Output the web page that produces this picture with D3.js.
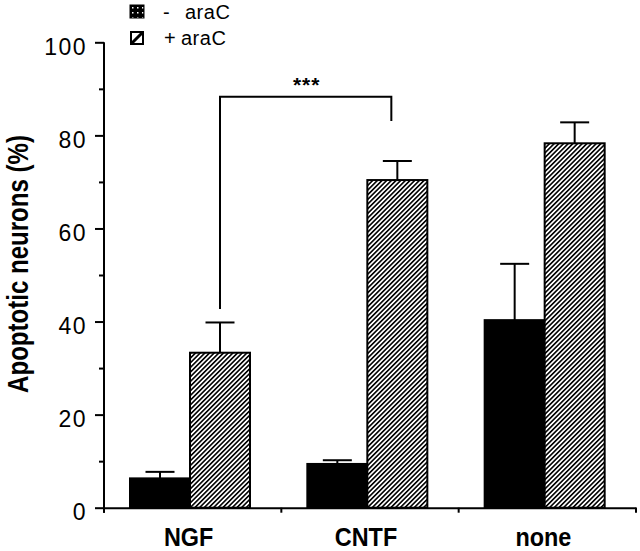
<!DOCTYPE html>
<html><head><meta charset="utf-8">
<script src="https://cdn.jsdelivr.net/npm/d3@7"></script>
<style>body{margin:0;background:#fff}text{font-family:"Liberation Sans",Arial,Helvetica,sans-serif;fill:#000}</style>
</head><body><svg id="c" width="640" height="551"></svg>
<script>
// ---- data ----
const categories = ["NGF", "CNTF", "none"];
const seriesKeys = ["minus", "plus"];
const legendSigns = ["-", "+"];
const legendWord = "araC";
const minusAraC = [6.3, 9.4, 40.3];
const minusAraCErr = [1.4, 0.8, 12.1];
const plusAraC = [33.3, 70.4, 78.3];
const plusAraCErr = [6.5, 4.1, 4.5];
const yMajorTicks = [0, 20, 40, 60, 80, 100];
const yMinorTicks = [10, 30, 50, 70, 90];
const yLabel = "Apoptotic neurons (%)";
const sigLabel = "***";
const sigFrom = ["NGF", "plus", 42.7];
const sigTo = ["CNTF", "plus", 83.1];
const sigTop = 88.3;

// ---- drawing ----
const svg = d3.select("#c");
const defs = svg.append("defs");
const hatch = defs.append("pattern").attr("id", "hatch")
  .attr("patternUnits", "userSpaceOnUse").attr("width", 3.3).attr("height", 3.3)
  .attr("patternTransform", "rotate(45)");
hatch.append("rect").attr("width", 3.3).attr("height", 3.3).attr("fill", "#fff");
hatch.append("rect").attr("width", 1.6).attr("height", 3.3).attr("fill", "#000");

const dots = defs.append("pattern").attr("id", "dots")
  .attr("patternUnits", "userSpaceOnUse").attr("width", 5).attr("height", 5);
dots.append("rect").attr("width", 5).attr("height", 5).attr("fill", "#000");
dots.append("rect").attr("x", 2).attr("y", 2).attr("width", 1.5).attr("height", 1.5).attr("fill", "#fff");

const y = d3.scaleLinear().domain([0, 100]).range([507.7, 42.3]);
const x0 = d3.scaleBand().domain(categories).range([104, 636]).paddingInner(0).paddingOuter(0);
const x1 = d3.scaleBand().domain(seriesKeys).range([26, 146]);

const rows = categories.map((c, i) => ({
  cat: c,
  bars: [
    { key: "minus", v: minusAraC[i], e: minusAraCErr[i] },
    { key: "plus", v: plusAraC[i], e: plusAraCErr[i] }
  ]
}));

// bars
const g = svg.append("g");
const grp = g.selectAll("g.cat").data(rows).join("g")
  .attr("transform", d => `translate(${x0(d.cat)},0)`);

// error bars (behind)
grp.selectAll("g.err").data(d => d.bars).join("g").each(function (b) {
  const cx = x1(b.key) + x1.bandwidth() / 2;
  const sel = d3.select(this);
  sel.append("line").attr("x1", cx).attr("x2", cx).attr("y1", y(b.v)).attr("y2", y(b.v + b.e))
    .attr("stroke", "#000").attr("stroke-width", 2);
  sel.append("line").attr("x1", cx - 14.5).attr("x2", cx + 14.5).attr("y1", y(b.v + b.e)).attr("y2", y(b.v + b.e))
    .attr("stroke", "#000").attr("stroke-width", 2);
});

grp.selectAll("rect.bar").data(d => d.bars).join("rect").attr("class", "bar")
  .attr("x", b => x1(b.key))
  .attr("width", x1.bandwidth())
  .attr("y", b => y(b.v))
  .attr("height", b => y(0) - y(b.v))
  .attr("fill", b => b.key === "minus" ? "#000" : "url(#hatch)")
  .attr("stroke", "#000").attr("stroke-width", 2);

// y axis
const yMinor = svg.append("g").attr("transform", "translate(104,0)")
  .call(d3.axisLeft(y).tickValues(yMinorTicks).tickSize(5).tickSizeOuter(0).tickFormat(""));
yMinor.select(".domain").remove();
const yMajor = svg.append("g").attr("transform", "translate(104,0)")
  .call(d3.axisLeft(y).tickValues(yMajorTicks).tickSize(9).tickSizeOuter(0).tickPadding(8));
svg.selectAll("g.tick line").attr("stroke-width", 2);
yMajor.select(".domain").attr("stroke-width", 2).attr("d", `M0,${y(100)}V${y(0) + 5}`);
yMajor.selectAll("text").attr("font-size", 23).attr("letter-spacing", "1.5px")
  .attr("x", -17).attr("dy", 0).attr("y", 12).attr("font-family", '"Liberation Sans",Arial,sans-serif');

// x axis
const xAxis = svg.append("g").attr("transform", `translate(0,${y(0)})`)
  .call(d3.axisBottom(x0).tickSize(0).tickSizeOuter(0).tickPadding(0));
xAxis.select(".domain").attr("stroke-width", 2);
xAxis.selectAll("text").attr("font-size", 26).attr("font-weight", "bold")
  .attr("dy", 0).attr("y", 38.3)
  .attr("transform", "translate(-4,0) scale(0.9,1)")
  .attr("font-family", '"Liberation Sans",Arial,sans-serif');
const bounds = categories.map(c => x0(c)).concat([x0.range()[1]]);
svg.append("g").selectAll("line").data(bounds).join("line")
  .attr("x1", d => d).attr("x2", d => d).attr("y1", y(0)).attr("y2", y(0) + 5)
  .attr("stroke", "#000").attr("stroke-width", 2);

// y label
svg.append("text")
  .attr("transform", `translate(28,264) rotate(-90) scale(0.83,1)`)
  .attr("text-anchor", "middle").attr("font-size", 29).attr("font-weight", "bold")
  .text(yLabel);

// significance bracket
const bx = (s) => x0(s[0]) + x1(s[1]) + x1.bandwidth() / 2;
const xa = bx(sigFrom), xb = bx(sigTo) - 6;
svg.append("path")
  .attr("d", `M${xa},${y(sigFrom[2])}V${y(sigTop)}H${xb}V${y(sigTo[2])}`)
  .attr("fill", "none").attr("stroke", "#000").attr("stroke-width", 2);
svg.append("text").attr("x", (xa + xb) / 2 + 1).attr("y", 92)
  .attr("text-anchor", "middle").attr("font-size", 21).attr("font-weight", "bold")
  .attr("letter-spacing", "1px").text(sigLabel);

// legend
const leg = svg.append("g");
const legY = [5, 31];
const signX = [163, 164];
const wordX = [185, 181];
legendSigns.forEach((s, i) => {
  if (i === 0) {
    leg.append("rect").attr("x", 130).attr("y", legY[i]).attr("width", 14).attr("height", 13)
      .attr("fill", "url(#dots)").attr("stroke", "#000").attr("stroke-width", 1);
  } else {
    leg.append("rect").attr("x", 131).attr("y", legY[i] + 1).attr("width", 12).attr("height", 12)
      .attr("fill", "#fff").attr("stroke", "#000").attr("stroke-width", 2);
    leg.append("line").attr("x1", 132).attr("y1", legY[i] + 12).attr("x2", 142).attr("y2", legY[i] + 2)
      .attr("stroke", "#000").attr("stroke-width", 3);
  }
  leg.append("text").attr("x", signX[i]).attr("y", legY[i] + 14).attr("font-size", 20).text(s);
  leg.append("text").attr("x", wordX[i]).attr("y", legY[i] + 14).attr("font-size", 20)
    .attr("letter-spacing", "0.5px").text(legendWord);
});
</script></body></html>
